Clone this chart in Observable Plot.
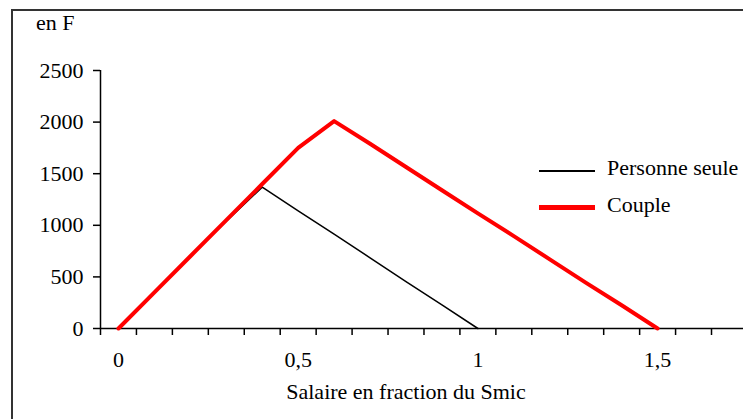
<!DOCTYPE html>
<html>
<head>
<meta charset="utf-8">
<script src="https://cdn.jsdelivr.net/npm/d3@7"></script>
<script src="https://cdn.jsdelivr.net/npm/@observablehq/plot@0.6"></script>
<style>
  html, body { margin: 0; padding: 0; background: #fff; overflow: hidden; }
  #wrap { position: relative; width: 743px; height: 419px; overflow: hidden; font-family: "Liberation Serif", "Times New Roman", serif; color: #000; }
  #frame { position: absolute; left: 11px; top: 9px; width: 900px; height: 600px; border: 2px solid #333; box-sizing: border-box; }
  .lbl { position: absolute; font-size: 22px; line-height: 22px; white-space: nowrap; font-family: "Liberation Serif", "Times New Roman", serif; }
  .sw { position: absolute; }
  #chart { position: absolute; left: 0; top: 0; }
  #chart svg text { font-family: "Liberation Serif", "Times New Roman", serif; }
</style>
</head>
<body>
<div id="wrap">
  <div id="frame"></div>
  <div id="chart"></div>
  <div class="lbl" style="left:36px; top:12px;">en F</div>
  <div class="lbl" style="left:406px; top:381px; transform:translateX(-50%);">Salaire en fraction du Smic</div>
  <div class="sw" style="left:539px; top:170px; width:56px; height:1.5px; background:#000;"></div>
  <div class="lbl" style="left:607px; top:157px;">Personne seule</div>
  <div class="sw" style="left:539px; top:205px; width:56px; height:5px; background:#ff0000;"></div>
  <div class="lbl" style="left:607px; top:194px;">Couple</div>
</div>
<script>
// Salaire en fraction du Smic (categories)
const salaire = [0, 0.1, 0.2, 0.3, 0.4, 0.5, 0.6, 0.7, 0.8, 0.9, 1.0, 1.1, 1.2, 1.3, 1.4, 1.5];
// Montant en F
const personneSeule = [0, 350, 700, 1040, 1370, 1140, 915, 685, 455, 230, 0];
const couple = [0, 350, 700, 1050, 1400, 1750, 2010, 1790, 1565, 1340, 1115, 895, 670, 445, 225, 0];
// Axis ticks
const yTicks = [0, 500, 1000, 1500, 2000, 2500];
const xLabels = [0, 0.5, 1, 1.5];
const xBoundaries = d3.range(0, 18).map(i => -0.05 + i * 0.1);
const xDomain = [-0.05, 1.739];

const seuleData = personneSeule.map((v, i) => ({x: salaire[i], y: v}));
const coupleData = couple.map((v, i) => ({x: salaire[i], y: v}));

const fmt = d => String(d).replace(".", ",");
const serif = "'Liberation Serif', 'Times New Roman', serif";

const chart = Plot.plot({
  width: 743,
  height: 419,
  marginLeft: 100,
  marginRight: 0,
  marginTop: 70,
  marginBottom: 91,
  style: {fontFamily: serif, fontSize: "22px", background: "transparent", overflow: "visible"},
  x: {domain: xDomain},
  y: {domain: [0, 2500]},
  marks: [
    Plot.axisY({ticks: yTicks, tickSize: 7, tickPadding: 10, fontSize: 22, fontFamily: serif, tickFormat: d => String(d), label: null, stroke: "#000", strokeWidth: 1.5}),
    Plot.axisX({ticks: xBoundaries, tickSize: 7, tickFormat: () => "", label: null, stroke: "#000", strokeWidth: 1.5}),
    Plot.axisX({ticks: xLabels, tickSize: 0, tickPadding: 23, fontSize: 22, fontFamily: serif, tickFormat: fmt, label: null}),
    Plot.ruleY([0], {stroke: "#000", strokeWidth: 1.5}),
    Plot.ruleX([xDomain[0]], {y1: 0, y2: 2500, stroke: "#000", strokeWidth: 1.5}),
    Plot.line(seuleData, {x: "x", y: "y", stroke: "#000", strokeWidth: 1.5}),
    Plot.line(coupleData, {x: "x", y: "y", stroke: "#ff0000", strokeWidth: 4})
  ]
});
document.getElementById("chart").appendChild(chart);
</script>
</body>
</html>
